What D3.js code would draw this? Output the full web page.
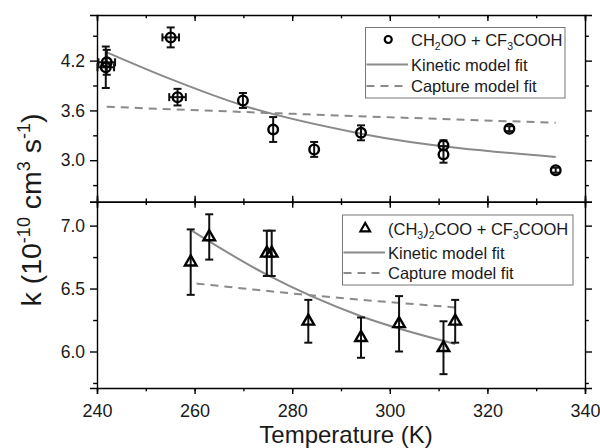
<!DOCTYPE html>
<meta charset="utf-8">
<style>
    body { margin: 0; background: #fff; }
    svg { font-family: "Liberation Sans", Arial, sans-serif; }
    .axis path, .axis line { stroke: #000; stroke-width: 1.4; }
    .axis text { font-size: 17.5px; fill: #1a1a1a; }
    .fit { fill: none; stroke: #8a8a8a; stroke-width: 2; }
    .err { stroke: #111; stroke-width: 2; fill: none; }
</style>
<svg width="600" height="448"></svg>
<script src="https://d3js.org/d3.v7.min.js"></script>
<script>
    // top panel: CH2OO + CF3COOH
    var topT    = [242.0, 241.8, 255.1, 256.5, 269.9, 276.1, 284.5, 294.1, 311.0, 311.0, 324.5, 334.0];
    var topK    = [4.18, 4.12, 4.48, 3.76, 3.72, 3.37, 3.13, 3.33, 3.18, 3.07, 3.38, 2.88];
    var topErr  = [0.15, 0.25, 0.12, 0.10, 0.09, 0.15, 0.09, 0.09, 0.06, 0.10, 0.03, 0.03];
    var topXErr = [1.7, 1.7, 1.7, 1.7, 0, 0, 0, 0, 0, 0, 0, 0];
    var topKinT = [242, 255, 269.9, 294.1, 334];
    var topKinK = [4.30, 3.98, 3.66, 3.32, 3.04];
    var topCapT = [242, 281.6, 334];
    var topCapK = [3.644, 3.556, 3.451];

    // bottom panel: (CH3)2COO + CF3COOH
    var botT   = [259.2, 263.0, 274.8, 275.8, 283.3, 294.1, 301.9, 311.0, 313.4];
    var botK   = [6.71, 6.91, 6.78, 6.78, 6.24, 6.11, 6.22, 6.03, 6.24];
    var botErr = [0.26, 0.18, 0.18, 0.18, 0.17, 0.16, 0.22, 0.21, 0.17];
    var botKinT = [259.4, 274.8, 294.1, 313.4];
    var botKinK = [6.96, 6.61, 6.28, 6.06];
    var botCapT = [260.4, 281.6, 313.4];
    var botCapK = [6.54, 6.455, 6.35];

    var xTicks = [240, 260, 280, 300, 320, 340];
    var topTicks = [3.0, 3.6, 4.2];
    var botTicks = [6.0, 6.5, 7.0];

    var svg = d3.select("svg");
    var left = 97, right = 585;
    var x = d3.scaleLinear().domain([240, 340]).range([left, right]);
    var yTop = d3.scaleLinear().domain([2.5, 4.75]).range([201.7, 15]);
    var yBot = d3.scaleLinear().domain([5.71, 7.19]).range([388, 201.7]);

    var xMinor = d3.range(240, 341, 10);

    function ticksAxis(axisFn, scale, major, minor, size, fmt, transform, showLabels) {
        // minor first, then major with labels
        svg.append("g").attr("class", "axis").attr("transform", transform)
            .call(axisFn(scale).tickValues(minor).tickSize(size * 0.55).tickFormat(""))
            .select(".domain").remove();
        var g = svg.append("g").attr("class", "axis").attr("transform", transform)
            .call(axisFn(scale).tickValues(major).tickSize(size).tickPadding(showLabels ? 5 : 0)
                .tickFormat(showLabels ? fmt : ""));
        return g;
    }

    function panel(y, yMajor, yMinor, topInward, bottomLabels) {
        var y0 = y.range()[0], y1 = y.range()[1];
        ticksAxis(d3.axisLeft, y, yMajor, yMinor, 7, d3.format(".1f"), "translate(" + left + ",0)", true);
        ticksAxis(d3.axisRight, y, yMajor, yMinor, 7, null, "translate(" + right + ",0)", false);
        if (topInward) {
            ticksAxis(d3.axisBottom, x, xTicks, xMinor, 6, null, "translate(0," + y1 + ")", false);
        } else {
            ticksAxis(d3.axisTop, x, xTicks, xMinor, 6, null, "translate(0," + y1 + ")", false);
        }
        var b = ticksAxis(d3.axisBottom, x, xTicks, xMinor, 6, d3.format("d"), "translate(0," + y0 + ")", bottomLabels);
        if (bottomLabels) b.selectAll("text").attr("y", 16).style("font-size", "18px");
    }

    panel(yTop, topTicks, [2.7, 3.3, 3.9, 4.5], true, false);
    panel(yBot, botTicks, [5.75, 6.25, 6.75], false, true);

    function fitLine(ts, ks, y, dashed) {
        var line = d3.line().curve(d3.curveMonotoneX)
            .x(function (d) { return x(d[0]); })
            .y(function (d) { return y(d[1]); });
        svg.append("path").attr("class", "fit")
            .attr("d", line(d3.zip(ts, ks)))
            .attr("stroke-dasharray", dashed ? "8,6" : null);
    }

    fitLine(topKinT, topKinK, yTop, false);
    fitLine(topCapT, topCapK, yTop, true);
    fitLine(botKinT, botKinK, yBot, false);
    fitLine(botCapT, botCapK, yBot, true);

    function errorBars(ts, ks, es, xes, y) {
        var g = svg.append("g").attr("class", "err");
        ts.forEach(function (t, i) {
            var cx = x(t), lo = y(ks[i] - es[i]), hi = y(ks[i] + es[i]);
            g.append("line").attr("x1", cx).attr("x2", cx).attr("y1", lo).attr("y2", hi);
            g.append("line").attr("x1", cx - 4).attr("x2", cx + 4).attr("y1", lo).attr("y2", lo);
            g.append("line").attr("x1", cx - 4).attr("x2", cx + 4).attr("y1", hi).attr("y2", hi);
            if (xes && xes[i] > 0) {
                var cy = y(ks[i]), l = x(t - xes[i]), r = x(t + xes[i]);
                g.append("line").attr("x1", l).attr("x2", r).attr("y1", cy).attr("y2", cy);
                g.append("line").attr("x1", l).attr("x2", l).attr("y1", cy - 4).attr("y2", cy + 4);
                g.append("line").attr("x1", r).attr("x2", r).attr("y1", cy - 4).attr("y2", cy + 4);
            }
        });
    }

    errorBars(topT, topK, topErr, topXErr, yTop);
    errorBars(botT, botK, botErr, null, yBot);

    svg.append("g").selectAll("circle").data(d3.zip(topT, topK)).enter().append("circle")
        .attr("cx", function (d) { return x(d[0]); })
        .attr("cy", function (d) { return yTop(d[1]); })
        .attr("r", 4.8)
        .attr("fill", "none").attr("stroke", "#000").attr("stroke-width", 2.4);

    var tri = d3.symbol().type(d3.symbolTriangle).size(58);
    svg.append("g").selectAll("path").data(d3.zip(botT, botK)).enter().append("path")
        .attr("d", tri)
        .attr("transform", function (d) { return "translate(" + x(d[0]) + "," + yBot(d[1]) + ")"; })
        .attr("fill", "none").attr("stroke", "#000").attr("stroke-width", 2.4);

    // legends
    function legend(x0, x1, y0, y1, rows, symbol, label) {
        var g = svg.append("g");
        g.append("rect").attr("x", x0).attr("y", y0).attr("width", x1 - x0).attr("height", y1 - y0)
            .attr("fill", "#fff").attr("stroke", "#777").attr("stroke-width", 1);
        var sx = x0 + (rows.textX - x0) / 2;
        if (symbol === "circle") {
            g.append("circle").attr("cx", sx).attr("cy", rows.y[0]).attr("r", 3.5)
                .attr("fill", "none").attr("stroke", "#000").attr("stroke-width", 2.2);
        } else {
            g.append("path").attr("d", d3.symbol().type(d3.symbolTriangle).size(40))
                .attr("transform", "translate(" + sx + "," + rows.y[0] + ")")
                .attr("fill", "none").attr("stroke", "#000").attr("stroke-width", 2.2);
        }
        g.append("line").attr("class", "fit").attr("x1", x0 + 1).attr("x2", rows.textX - 3)
            .attr("y1", rows.y[1]).attr("y2", rows.y[1]);
        g.append("line").attr("class", "fit").attr("x1", x0 + 1).attr("x2", rows.textX - 3)
            .attr("y1", rows.y[2]).attr("y2", rows.y[2]).attr("stroke-dasharray", "8,6");
        var t = g.append("text").attr("x", rows.textX).attr("y", rows.y[0] + 6)
            .style("font-size", "16.5px").attr("fill", "#1a1a1a");
        // each part: [text, dy, isSubscript]
        label.forEach(function (p) {
            t.append("tspan").text(p[0]).attr("dy", p[1]).style("font-size", p[2] ? "10.5px" : null);
        });
        g.append("text").attr("x", rows.textX).attr("y", rows.y[1] + 6).style("font-size", "16.5px")
            .attr("fill", "#1a1a1a").text("Kinetic model fit");
        g.append("text").attr("x", rows.textX).attr("y", rows.y[2] + 6).style("font-size", "16.5px")
            .attr("fill", "#1a1a1a").text("Capture model fit");
    }

    legend(365.5, 565, 27.5, 98, {textX: 411, y: [39.5, 64.5, 86]}, "circle",
        [["CH", 0], ["2", 4, 1], ["OO + CF", -4], ["3", 4, 1], ["COOH", -4]]);
    legend(342.5, 573, 215, 285, {textX: 388, y: [228.5, 252.5, 273]}, "triangle",
        [["(CH", 0], ["3", 4, 1], [")", -4], ["2", 4, 1], ["COO + CF", -4], ["3", 4, 1], ["COOH", -4]]);

    // axis titles
    svg.append("text").attr("x", (left + right) / 2 + 5).attr("y", 443)
        .attr("text-anchor", "middle").style("font-size", "24px").attr("fill", "#1a1a1a")
        .text("Temperature (K)");

    var yl = svg.append("text").attr("transform", "translate(41,210) rotate(-90)")
        .attr("text-anchor", "middle").style("font-size", "28.5px").attr("fill", "#1a1a1a");
    [["k (10", 0], ["-10", -11], [" cm", 11], ["3", -11], [" s", 11], ["-1", -11], [")", 11]].forEach(function (p, i) {
        yl.append("tspan").text(p[0]).attr("dy", p[1])
            .style("font-size", (i % 2 === 1) ? "18px" : null);
    });
</script>
